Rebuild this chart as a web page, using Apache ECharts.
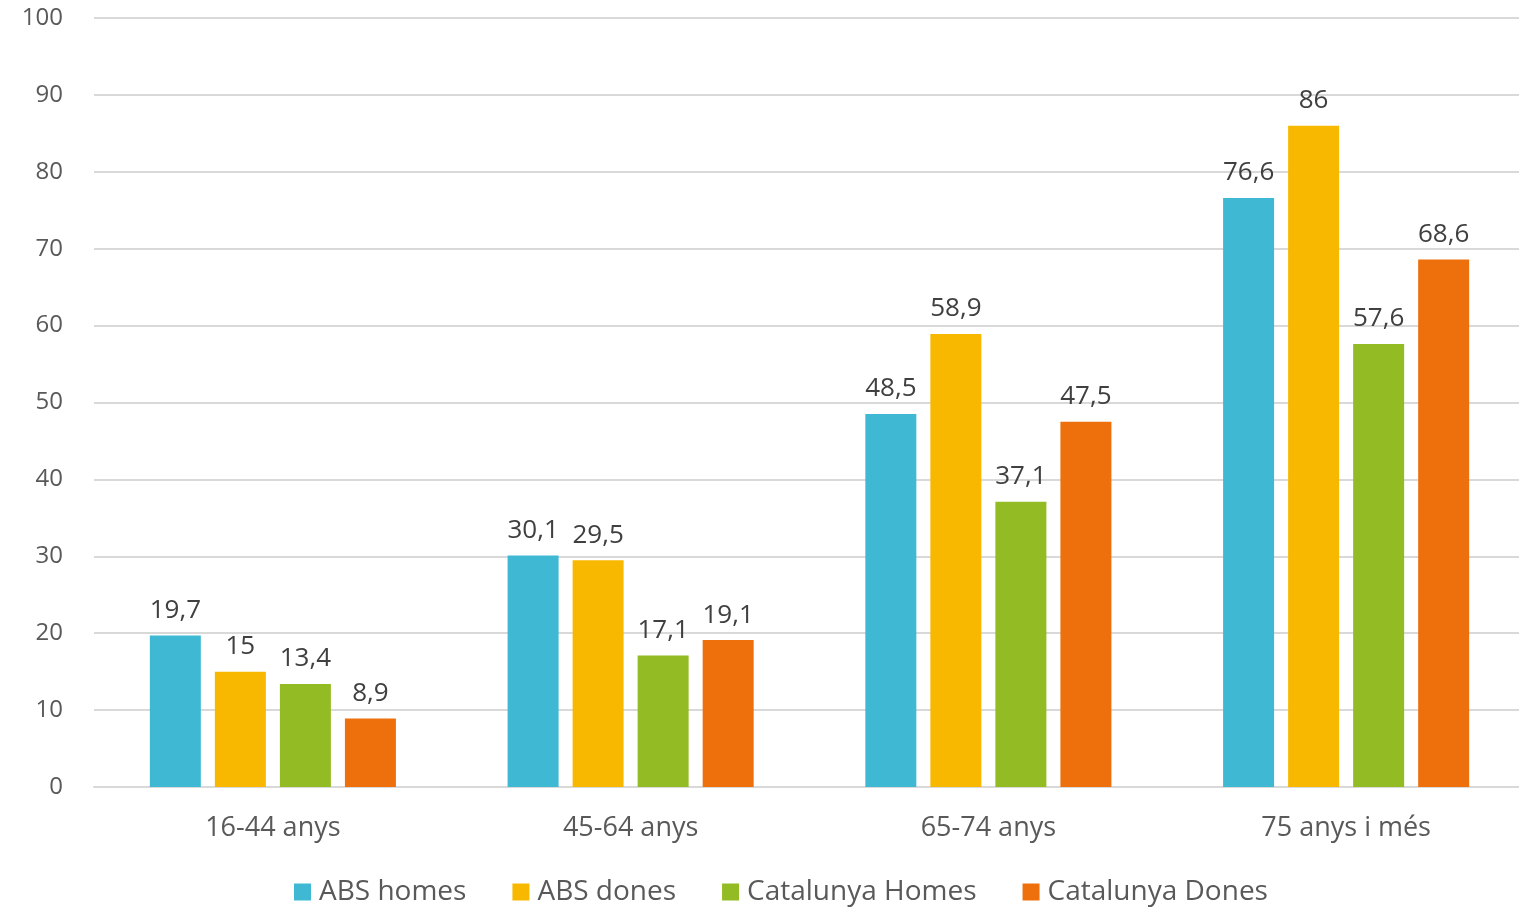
<!DOCTYPE html>
<html>
<head>
<meta charset="utf-8">
<script src="https://cdn.jsdelivr.net/npm/echarts@6/dist/echarts.min.js"></script>
<style>
html,body{margin:0;padding:0;background:#fff;overflow:hidden;}
#chart{width:1525px;height:907px;}
</style>
</head>
<body>
<div id="chart"></div>
<script>
const categories = ['16-44 anys', '45-64 anys', '65-74 anys', '75 anys i més'];
const seriesNames = ['ABS homes', 'ABS dones', 'Catalunya Homes', 'Catalunya Dones'];
const absHomes = [19.7, 30.1, 48.5, 76.6];
const absDones = [15, 29.5, 58.9, 86];
const catHomes = [13.4, 17.1, 37.1, 57.6];
const catDones = [8.9, 19.1, 47.5, 68.6];
const colors = ['#3FB9D3', '#F9B800', '#93BB23', '#ED700C'];

const FONT = '"Open Sans", "Noto Sans", sans-serif';
const chart = echarts.init(document.getElementById('chart'));
const allData = [absHomes, absDones, catHomes, catDones];

chart.setOption({
  animation: false,
  color: colors,
  textStyle: { fontFamily: FONT },
  grid: { left: 94, right: 0, top: 18, bottom: 120, containLabel: false },
  legend: {
    top: 873,
    left: 289,
    itemWidth: 17,
    itemHeight: 17,
    itemGap: 46,
    icon: 'rect',
    textStyle: { fontSize: 28, color: '#595959', fontFamily: FONT, padding: [0, 0, 0, 3] },
    data: seriesNames
  },
  xAxis: {
    type: 'category',
    data: categories,
    axisLine: { lineStyle: { color: '#D9D9D9', width: 2 } },
    axisTick: { show: false },
    axisLabel: { fontSize: 27, color: '#595959', margin: 28 }
  },
  yAxis: {
    type: 'value',
    min: 0,
    max: 100,
    interval: 10,
    axisLine: { show: false },
    axisTick: { show: false },
    splitLine: { lineStyle: { color: '#D9D9D9', width: 2 } },
    axisLabel: { fontSize: 24, color: '#595959', margin: 31 }
  },
  series: seriesNames.map((n, i) => ({
    name: n,
    type: 'bar',
    data: allData[i],
    barWidth: 51,
    barGap: '27.5%',
    label: {
      show: true,
      position: 'top',
      distance: 12,
      fontSize: 26,
      color: '#404040',
      formatter: p => String(p.value).replace('.', ',')
    }
  }))
});
</script>
</body>
</html>
